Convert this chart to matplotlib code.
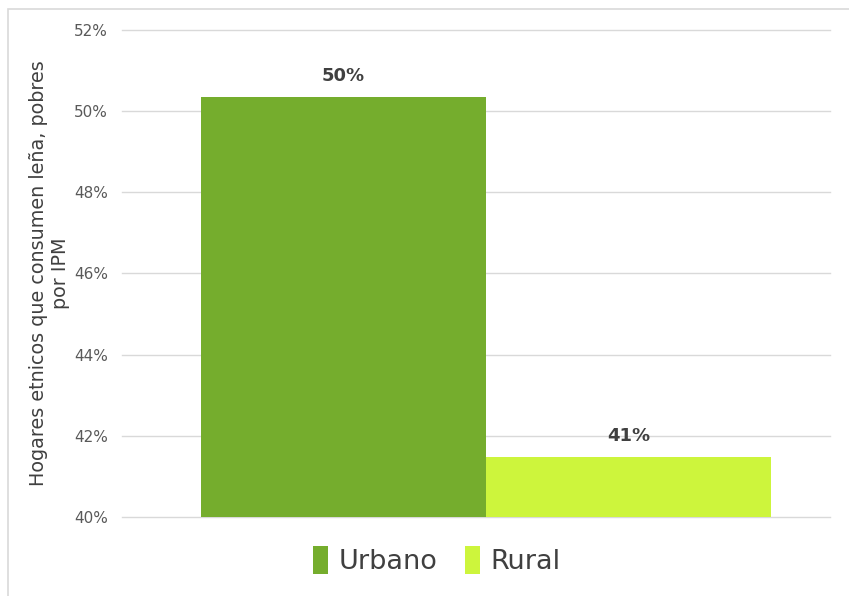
import matplotlib
matplotlib.use("Agg")
import matplotlib.pyplot as plt
from matplotlib.patches import Rectangle
from matplotlib.ticker import FuncFormatter

# datos
categorias = ["Urbano", "Rural"]
valores = [50.34, 41.47]
etiquetas = ["50%", "41%"]
colores = ["#75ad2d", "#cdf53c"]

plt.rcParams['font.family'] = ['DejaVu Sans']

fig = plt.figure(figsize=(8.49, 5.96), dpi=100)
ax = fig.add_axes([0.1437, 0.1326, 0.8339, 0.8171])

# marco del grafico
fig.patches.append(Rectangle((8/849, -0.1), 1.0, 1 - 9/596 + 0.1, transform=fig.transFigure,
                             fill=False, edgecolor="#d9d9d9", linewidth=1.2))

for i, (cat, v) in enumerate(zip(categorias, valores)):
    ax.bar(i, v - 40, bottom=40, width=1.0, color=colores[i], label=cat)
    ax.text(i, v + 0.3, etiquetas[i], ha="center", va="bottom", fontsize=13,
            fontweight="bold", color="#404040")

ax.set_ylim(40, 52)
ax.set_yticks(range(40, 53, 2))
ax.yaxis.set_major_formatter(FuncFormatter(lambda y, p: f"{int(y)}%"))
ax.set_xlim(-0.777, 1.707)
ax.set_xticks([])
ax.grid(axis="y", color="#d9d9d9", linewidth=1)
for gl in ax.get_ygridlines():
    gl.set_clip_on(False)
ax.set_axisbelow(True)
for s in ax.spines.values():
    s.set_visible(False)
ax.tick_params(axis="y", length=0, pad=10, labelsize=11, labelcolor="#595959")

ax.set_ylabel("Hogares etnicos que consumen leña, pobres\npor IPM", fontsize=13.8,
              color="#404040", labelpad=3)

ax.legend(loc="upper center", bbox_to_anchor=(0.445, -0.01), ncol=2, frameon=False,
          fontsize=19.5, handlelength=0.55, handleheight=1.2, handletextpad=0.4,
          columnspacing=1.0, labelcolor="#404040")

fig.savefig("out.png", dpi=100)
